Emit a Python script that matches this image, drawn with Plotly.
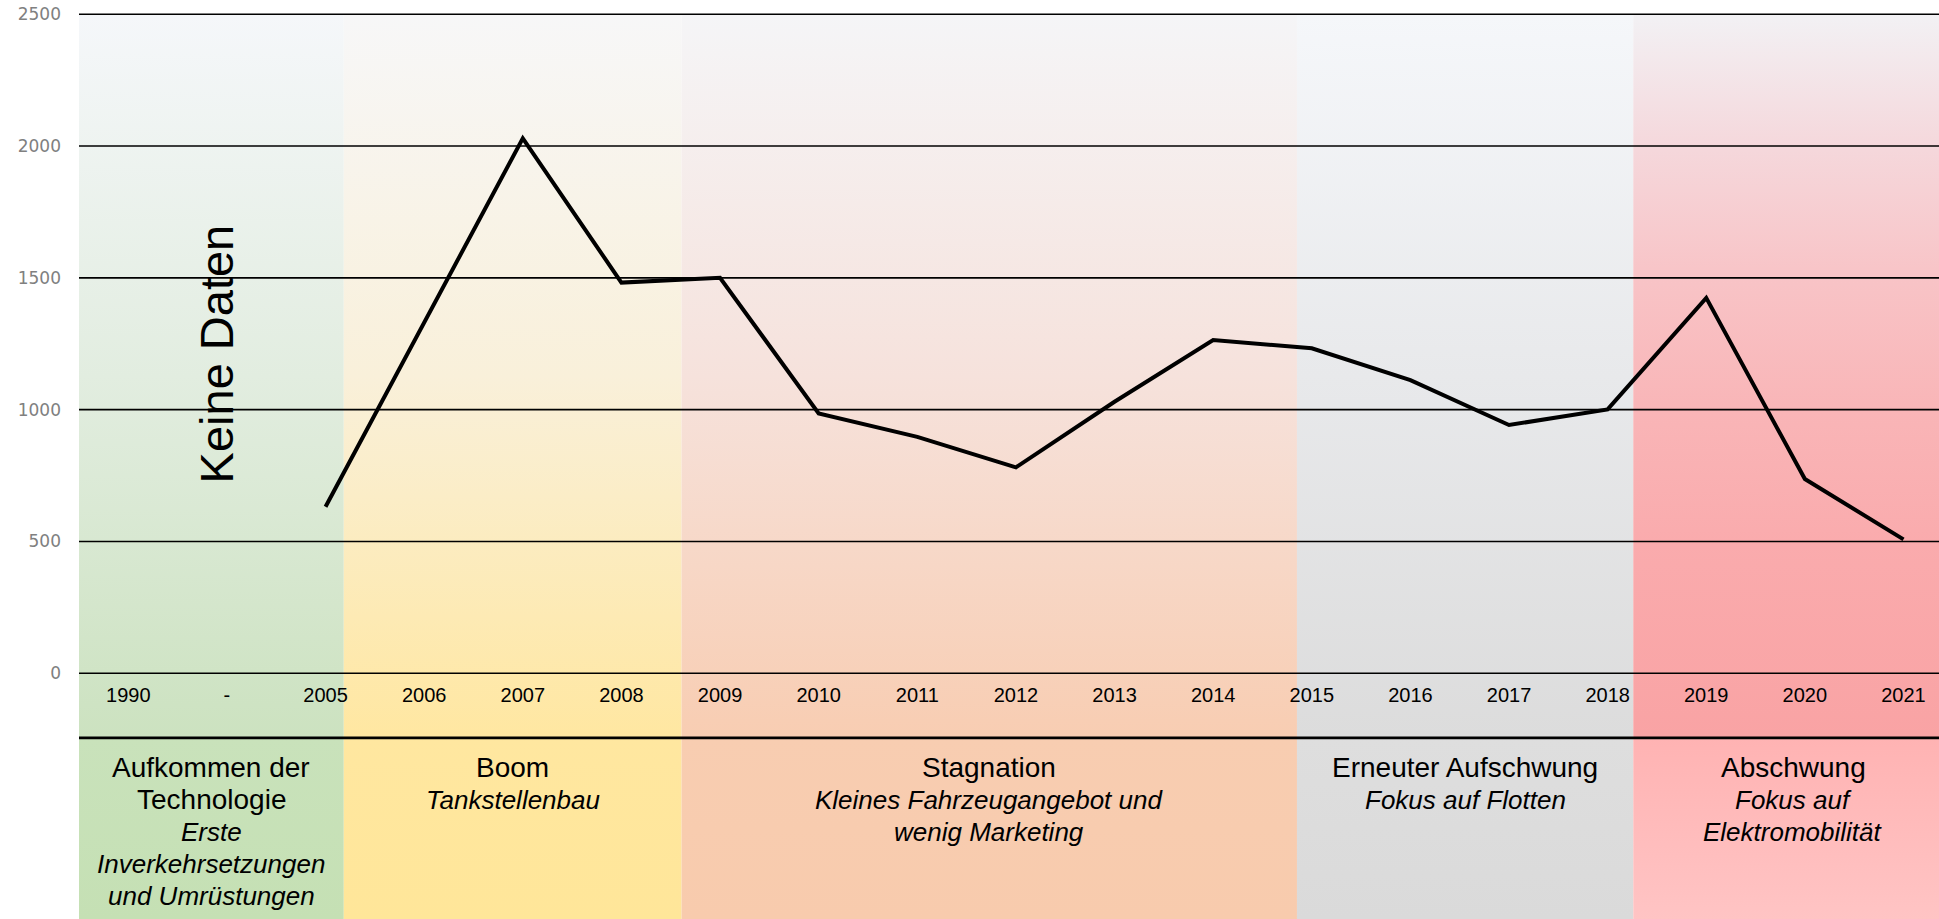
import plotly.graph_objects as go

# Kategorien der x-Achse
categories = ["1990", "-", "2005", "2006", "2007", "2008", "2009", "2010", "2011",
              "2012", "2013", "2014", "2015", "2016", "2017", "2018", "2019", "2020", "2021"]

# Werte der Linie (ab 2005)
line_years = ["2005", "2006", "2007", "2008", "2009", "2010", "2011", "2012", "2013",
              "2014", "2015", "2016", "2017", "2018", "2019", "2020", "2021"]
line_values = [632, 1330, 2029, 1482, 1500, 986, 897, 781, 1030,
               1264, 1233, 1112, 942, 1001, 1424, 737, 508]

y_ticks = [0, 500, 1000, 1500, 2000, 2500]

# Phasen (Titel, Untertitel, Grenzen auf der Kategorienachse)
phase_titles = [["Aufkommen der", "Technologie"], ["Boom"], ["Stagnation"],
                ["Erneuter Aufschwung"], ["Abschwung"]]
phase_subtitles = [["Erste", "Inverkehrsetzungen", "und Umrüstungen"],
                   ["Tankstellenbau"],
                   ["Kleines Fahrzeugangebot und", "wenig Marketing"],
                   ["Fokus auf Flotten"],
                   ["Fokus auf", "Elektromobilität"]]
phase_bounds = [-0.5, 2.185, 5.61, 11.85, 15.26, 18.5]

no_data_text = "Keine Daten"

# Farbverläufe (unten -> oben) für Diagramm- und Beschriftungsbereich
chart_gradients = [
    [[0, "#cce2c0"], [0.5, "#e2ede0"], [1, "#f5f7fa"]],
    [[0, "#ffe7a1"], [0.5, "#f9f0da"], [1, "#f7f7f8"]],
    [[0, "#f8cdb2"], [0.5, "#f6e2dc"], [1, "#f5f5f7"]],
    [[0, "#dcdcdc"], [0.5, "#e8e9eb"], [1, "#f5f7fa"]],
    [[0, "#f9a3a4"], [0.27, "#faabad"], [0.45, "#f9b5b7"], [0.64, "#f8c4c7"],
     [0.82, "#f5d8dc"], [1, "#f2f1f4"]],
]
label_gradients = [
    [[0, "#c5e0b4"], [1, "#c9e2bb"]],
    [[0, "#ffe699"], [1, "#ffe7a0"]],
    [[0, "#f8cbad"], [1, "#f8cdb1"]],
    [[0, "#dadada"], [1, "#dedede"]],
    [[0, "#ffc4c4"], [1, "#ffb3b3"]],
]

Y_MIN, Y_MAX = -932, 2554
X_MIN, X_MAX = -0.5, 18.36
DIVIDER_Y = -245
LABEL_TOP = -359
LABEL_STEP = 121

fig = go.Figure()

# Hintergrundbänder mit vertikalem Verlauf
for i in range(len(phase_titles)):
    x0, x1 = phase_bounds[i], phase_bounds[i + 1]
    for y0, y1, grad in [(DIVIDER_Y, y_ticks[-1], chart_gradients[i]),
                         (Y_MIN, DIVIDER_Y, label_gradients[i])]:
        fig.add_trace(go.Scatter(
            x=[x0, x1, x1, x0, x0],
            y=[y0, y0, y1, y1, y0],
            mode="lines",
            line=dict(width=0),
            fill="toself",
            fillgradient=dict(type="vertical", colorscale=grad, start=y0, stop=y1),
            hoverinfo="skip",
            showlegend=False,
        ))

# Datenlinie
fig.add_trace(go.Scatter(
    x=[categories.index(y) for y in line_years],
    y=line_values,
    mode="lines",
    line=dict(color="black", width=4),
    showlegend=False,
))

# Gitterlinien und Trennlinie
for v in y_ticks:
    fig.add_hline(y=v, line_color="black", line_width=1.6, layer="above")
fig.add_hline(y=DIVIDER_Y, line_color="black", line_width=2.6, layer="above")

# Phasenbeschriftungen
for i in range(len(phase_titles)):
    xc = (phase_bounds[i] + phase_bounds[i + 1]) / 2
    lines = [(t, False) for t in phase_titles[i]] + [(s, True) for s in phase_subtitles[i]]
    for k, (txt, italic) in enumerate(lines):
        fig.add_annotation(
            x=xc, y=LABEL_TOP - k * LABEL_STEP,
            text=f"<i>{txt}</i>" if italic else txt,
            showarrow=False, xanchor="center", yanchor="middle",
            font=dict(family="Liberation Sans, Arial", size=26 if italic else 28, color="black"),
        )

fig.add_annotation(
    x=0.893, y=1211, text=no_data_text, textangle=-90, showarrow=False,
    xanchor="center", yanchor="middle",
    font=dict(family="Liberation Sans, Arial", size=47, color="black"),
)

fig.update_layout(
    width=1939, height=919,
    margin=dict(l=79, r=0, t=0, b=0),
    paper_bgcolor="white",
    plot_bgcolor="white",
    xaxis=dict(
        range=[X_MIN, X_MAX],
        tickvals=list(range(len(categories))),
        ticktext=categories,
        showgrid=False, zeroline=False, showline=False, ticks="",
        anchor="free", position=(0 - Y_MIN) / (Y_MAX - Y_MIN),
        ticklabelstandoff=8,
        tickfont=dict(family="Liberation Sans, Arial", size=20, color="black"),
        automargin=False,
    ),
    yaxis=dict(
        range=[Y_MIN, Y_MAX],
        tickvals=y_ticks,
        showgrid=False, zeroline=False, showline=False, ticks="",
        ticklabelstandoff=17,
        tickfont=dict(family="DejaVu Sans", size=17, color="#808080"),
        automargin=False,
    ),
)

# Seitenrand entfernen, damit die Grafik genau das Fenster füllt
fig.write_html("out.html", config={"displayModeBar": False},
               post_script="document.body.style.margin='0';")
